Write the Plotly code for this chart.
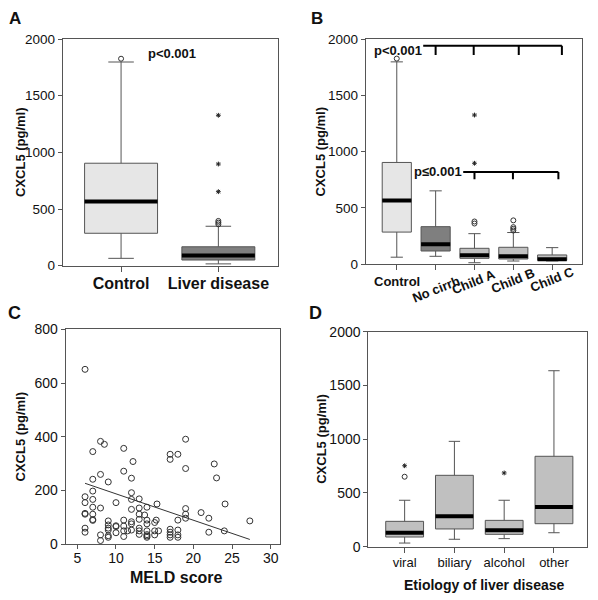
import plotly.graph_objects as go

# page has an 8px body margin: figure is drawn 8px in from the window corner
OFF = 8
W, H = 598 - OFF, 600 - OFF
FONT = "Liberation Sans, Arial, sans-serif"

# ---------------- Panel A data ----------------
a_groups = ["Control", "Liver disease"]
a_q1 = [286, 50]
a_median = [567, 90]
a_q3 = [904, 167]
a_low = [65, 16]
a_high = [1797, 348]
a_fill = ["#e6e6e6", "#7f7f7f"]
a_circle_grp = [0, 1, 1, 1]
a_circle_val = [1826, 365, 380, 395]
a_star_grp = [1, 1, 1]
a_star_val = [1327, 897, 653]

# ---------------- Panel B data ----------------
b_groups = ["Control", "No cirrh", "Child A", "Child B", "Child C"]
b_q1 = [286, 118, 53, 47, 35]
b_median = [567, 178, 80, 71, 44]
b_q3 = [904, 334, 142, 151, 83]
b_low = [63, 71, 14, 29, 30]
b_high = [1797, 652, 272, 282, 148]
b_fill = ["#e6e6e6", "#7f7f7f", "#c0c0c0", "#c0c0c0", "#c0c0c0"]
b_circle_grp = [0, 2, 2, 3, 3, 3, 3]
b_circle_val = [1826, 362, 380, 300, 315, 330, 390]
b_star_grp = [2, 2]
b_star_val = [1325, 897]

# ---------------- Panel C data ----------------
meld = [6, 6, 6, 6, 6, 6, 6,
        7, 7, 7, 7, 7, 7, 7, 7,
        8, 8.5, 8, 8, 8, 8,
        9, 9, 9, 9, 9, 9, 9,
        10, 10, 10, 10,
        11, 11, 11, 11, 11, 11, 11.5,
        12.2, 12, 12, 12, 12, 12, 12, 12,
        13, 13, 13, 13, 13, 13, 13,
        13.7, 14, 14, 14, 14, 14, 14, 14,
        15, 15.2, 15.3, 15, 15, 15.5,
        17, 17, 17, 17, 17, 17,
        18, 18, 18, 18, 18,
        19, 19, 19, 19, 19,
        21, 22, 22, 22.7, 23, 24.1, 24, 27.3]
cxcl5 = [651, 177, 155, 115, 112, 60, 45,
         345, 242, 198, 167, 138, 112, 92, 89,
         383, 372, 260, 135, 35, 14,
         232, 87, 72, 60, 53, 32, 26,
         155, 69, 66, 43,
         357, 272, 90, 68, 50, 29, 50,
         308, 246, 192, 167, 130, 84, 76, 53,
         169, 135, 112, 93, 60, 50, 37,
         109, 138, 90, 76, 50, 36, 31, 26,
         81, 90, 150, 50, 35, 50,
         335, 316, 56, 45, 35, 26,
         335, 90, 53, 35, 26,
         391, 282, 133, 112, 97,
         118, 97, 45, 299, 247, 150, 50, 87]
fit_x = [6, 27.3]
fit_y = [227, 18]

# ---------------- Panel D data ----------------
d_groups = ["viral", "biliary", "alcohol", "other"]
d_q1 = [90, 165, 115, 214]
d_median = [130, 283, 152, 369]
d_q3 = [236, 664, 245, 841]
d_low = [34, 69, 75, 130]
d_high = [432, 980, 432, 1637]
d_fill = ["#c0c0c0"] * 4
d_circle_grp = [0]
d_circle_val = [651]
d_star_grp = [0, 2]
d_star_val = [753, 686]

# bracket annotations in panel B (data coords)
br1_x = [0.68, 4.25]
br1_ticks = [1.0, 1.98, 3.14, 4.25]
br1_y = [1940, 1858]
br2_x = [1.71, 4.16]
br2_ticks = [2.0, 2.99, 4.16]
br2_y = [819, 755]


def px(x):
    return (x - OFF) / W


def py(y):
    return 1 - (y - OFF) / H


fig = go.Figure()


def add_boxes(groups, q1, med, q3, lo, hi, fills, ax, width, whisker):
    xa, ya = ax
    for i in range(len(groups)):
        fig.add_trace(go.Box(
            x=[i], q1=[q1[i]], median=[med[i]], q3=[q3[i]],
            lowerfence=[lo[i]], upperfence=[hi[i]],
            width=width, whiskerwidth=whisker, fillcolor=fills[i],
            line=dict(color="#555555", width=1), boxpoints=False,
            xaxis=xa, yaxis=ya, hoverinfo="skip", showlegend=False))
    mx, my = [], []
    for i, m in enumerate(med):
        mx += [i - width / 2, i + width / 2, None]
        my += [m, m, None]
    fig.add_trace(go.Scatter(x=mx, y=my, mode="lines",
                             line=dict(color="black", width=4),
                             xaxis=xa, yaxis=ya, hoverinfo="skip",
                             showlegend=False))


def add_outliers(cg, cv, sg, sv, ax):
    xa, ya = ax
    if cg:
        fig.add_trace(go.Scatter(
            x=cg, y=cv, mode="markers",
            marker=dict(symbol="circle-open", size=5, color="#333333",
                        line=dict(width=1, color="#333333")),
            xaxis=xa, yaxis=ya, hoverinfo="skip", showlegend=False))
    if sg:
        fig.add_trace(go.Scatter(
            x=sg, y=sv, mode="markers",
            marker=dict(symbol="asterisk-open", size=4, color="#222222",
                        line=dict(width=1, color="#222222")),
            xaxis=xa, yaxis=ya, hoverinfo="skip", showlegend=False))


add_boxes(a_groups, a_q1, a_median, a_q3, a_low, a_high, a_fill, ("x", "y"), 0.75, 0.35)
add_outliers(a_circle_grp, a_circle_val, a_star_grp, a_star_val, ("x", "y"))

add_boxes(b_groups, b_q1, b_median, b_q3, b_low, b_high, b_fill, ("x2", "y2"), 0.75, 0.42)
add_outliers(b_circle_grp, b_circle_val, b_star_grp, b_star_val, ("x2", "y2"))

fig.add_trace(go.Scatter(
    x=meld, y=cxcl5, mode="markers",
    marker=dict(symbol="circle-open", size=6, color="#333333",
                line=dict(width=1, color="#333333")),
    xaxis="x3", yaxis="y3", hoverinfo="skip", showlegend=False))
fig.add_trace(go.Scatter(
    x=fit_x, y=fit_y, mode="lines", line=dict(color="#333333", width=1),
    xaxis="x3", yaxis="y3", hoverinfo="skip", showlegend=False))

add_boxes(d_groups, d_q1, d_median, d_q3, d_low, d_high, d_fill, ("x4", "y4"), 0.76, 0.3)
add_outliers(d_circle_grp, d_circle_val, d_star_grp, d_star_val, ("x4", "y4"))

AXC = "#555555"
common = dict(showline=True, mirror=True, linecolor=AXC, linewidth=1,
              ticks="outside", tickcolor=AXC, showgrid=False, zeroline=False,
              fixedrange=True, automargin=False)

fig.update_layout(
    template="none",
    width=W, height=H, margin=dict(l=0, r=0, t=0, b=0, autoexpand=False),
    paper_bgcolor="white", plot_bgcolor="white",
    font=dict(family=FONT, color="#111111"),
    xaxis=dict(domain=[px(62.7), px(277.7)], range=[-0.6, 1.61], anchor="y",
               tickvals=list(range(len(a_groups))), ticktext=a_groups,
               tickfont=dict(size=16, weight="bold", color="#111"), ticklen=5,
               ticklabelstandoff=-2, **common),
    yaxis=dict(domain=[py(265.7), py(39)], range=[0, 2000], anchor="x",
               tickvals=[0, 500, 1000, 1500, 2000], tickfont=dict(size=13.5),
               ticklen=4, **common),
    xaxis2=dict(domain=[px(365.7), px(581.7)], range=[-0.8, 4.76], anchor="y2",
                tickvals=list(range(len(b_groups))), showticklabels=False,
                ticklen=5, **common),
    yaxis2=dict(domain=[py(264.3), py(39)], range=[0, 2000], anchor="x2",
                tickvals=[0, 500, 1000, 1500, 2000], tickfont=dict(size=13.5),
                ticklen=4, **common),
    xaxis3=dict(domain=[px(65.7), px(280)], range=[3.5, 31.2], anchor="y3",
                tickvals=[5, 10, 15, 20, 25, 30], tickfont=dict(size=14),
                ticklen=4, ticklabelstandoff=-3, **common),
    yaxis3=dict(domain=[py(544.3), py(329.3)], range=[0, 800], anchor="x3",
                tickvals=[0, 200, 400, 600, 800], tickfont=dict(size=14),
                ticklen=4, **common),
    xaxis4=dict(domain=[px(368.3), px(587.3)], range=[-0.73, 3.67], anchor="y4",
                tickvals=list(range(len(d_groups))), ticktext=d_groups,
                tickfont=dict(size=13), ticklen=5, ticklabelstandoff=-1, **common),
    yaxis4=dict(domain=[py(546.7), py(331.7)], range=[0, 2000], anchor="x4",
                tickvals=[0, 500, 1000, 1500, 2000], tickfont=dict(size=14),
                ticklen=4, **common),
)

ann = []


def text(x, y, t, size, bold=True, angle=0, xanchor="center", xref="paper",
         color="#111", yanchor="middle"):
    ann.append(dict(x=x, y=y, xref=xref, yref="paper", text=t, showarrow=False,
                    xanchor=xanchor, yanchor=yanchor, textangle=angle, borderpad=0,
                    font=dict(size=size, family=FONT, color=color,
                              weight="bold" if bold else "normal")))


# panel letters (top ones anchored to the figure's top edge so nothing is clipped)
text(px(14.5), 1.0, "A", 17, yanchor="top")
text(px(317), 1.0, "B", 17, yanchor="top")
text(px(14), py(313), "C", 18)
text(px(315.5), py(313), "D", 18)

# y-axis titles
text(px(20.7), py(152.3), "CXCL5 (pg/ml)", 13, angle=-90)
text(px(320.8), py(151.7), "CXCL5 (pg/ml)", 13, angle=-90)
text(px(20.7), py(436.8), "CXCL5 (pg/ml)", 13, angle=-90)
text(px(320.8), py(439), "CXCL5 (pg/ml)", 13, angle=-90)

# x-axis titles
text(px(176), py(577.5), "MELD score", 16)
text(px(483.5), py(585), "Etiology of liver disease", 14)

# p-values
text(px(147.3), py(53.3), "p<0.001", 13, xanchor="left")
text(px(373.5), py(50), "p<0.001", 13, xanchor="left")
text(px(413), py(171), "p≤0.001", 13, xanchor="left")

# panel B category labels
b_lab_y = [281, 289, 281.7, 280, 279]
b_lab_ang = [0, -22, -22, -22, -22]
for i, g in enumerate(b_groups):
    ann.append(dict(x=i, y=py(b_lab_y[i]), xref="x2", yref="paper", text=g,
                    showarrow=False, xanchor="center", yanchor="middle",
                    textangle=b_lab_ang[i],
                    font=dict(size=13, family=FONT, color="#111", weight="bold")))

fig.update_layout(annotations=ann)

# brackets in panel B
shapes = []
LW = 2
shapes.append(dict(type="line", xref="x2", yref="y2", x0=br1_x[0], x1=br1_x[1],
                   y0=br1_y[0], y1=br1_y[0], line=dict(color="black", width=LW)))
for t in br1_ticks:
    shapes.append(dict(type="line", xref="x2", yref="y2", x0=t, x1=t,
                       y0=br1_y[0], y1=br1_y[1], line=dict(color="black", width=LW)))
shapes.append(dict(type="line", xref="x2", yref="y2", x0=br2_x[0], x1=br2_x[1],
                   y0=br2_y[0], y1=br2_y[0], line=dict(color="black", width=LW)))
for t in br2_ticks:
    shapes.append(dict(type="line", xref="x2", yref="y2", x0=t, x1=t,
                       y0=br2_y[0], y1=br2_y[1], line=dict(color="black", width=LW)))
fig.update_layout(shapes=shapes)

fig.write_html("out.html")
